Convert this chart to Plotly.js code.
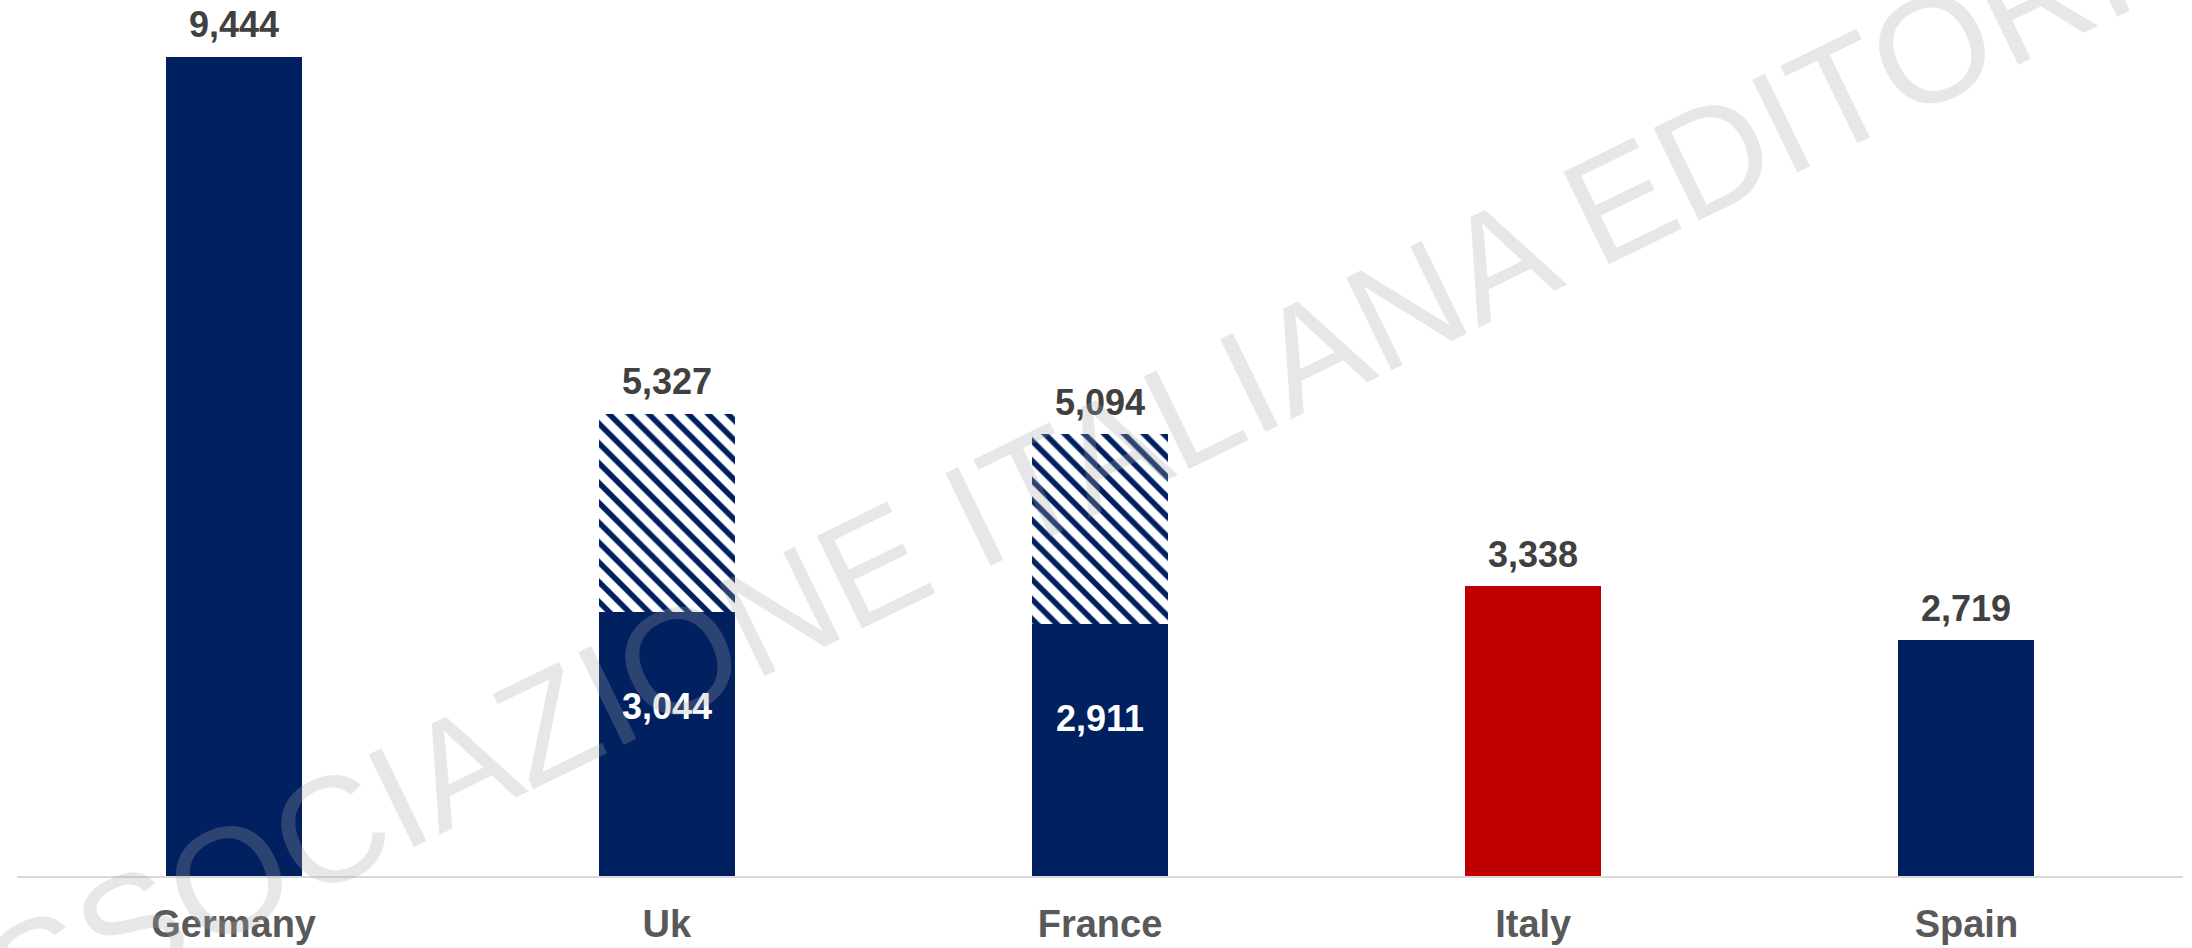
<!DOCTYPE html>
<html>
<head>
<meta charset="utf-8">
<script src="https://cdn.plot.ly/plotly-3.0.1.min.js"></script>
<style>
  html, body { margin: 0; padding: 0; background: #ffffff; }
  #chart { width: 2192px; height: 948px; }
</style>
</head>
<body>
<div id="chart"></div>
<script>
// ---- data ----
const countries = ['Germany', 'Uk', 'France', 'Italy', 'Spain'];
const totals = [9444, 5327, 5094, 3338, 2719];
const solidPart = [9444, 3044, 2911, 3338, 2719];
const barColors = ['#002060', '#002060', '#002060', '#C00000', '#002060'];
const innerShown = [false, true, true, false, false];
const watermark = 'ASSOCIAZIONE ITALIANA EDITORI';

// ---- derived ----
const hatched = totals.map((t, i) => (t - solidPart[i]) > 0 ? t - solidPart[i] : null);
const fmt = v => v.toLocaleString('en-US');
const FONT = 'Liberation Sans, Arial, sans-serif';

const traces = [
  {
    type: 'bar',
    x: countries,
    y: solidPart,
    marker: { color: barColors, line: { width: 0 } },
    hoverinfo: 'skip'
  },
  {
    type: 'bar',
    x: countries,
    y: hatched,
    marker: {
      color: '#002060',
      line: { width: 0 },
      pattern: { shape: '\\', fgcolor: '#002060', bgcolor: '#ffffff', size: 14, solidity: 0.4 }
    },
    hoverinfo: 'skip'
  }
];

const annotations = [];
countries.forEach((c, i) => {
  annotations.push({
    x: c, y: totals[i], xref: 'x', yref: 'y',
    text: fmt(totals[i]), showarrow: false,
    xanchor: 'center', yanchor: 'middle', yshift: 32,
    font: { family: FONT, size: 36, color: '#404040', weight: 'bold' }
  });
  if (innerShown[i]) {
    annotations.push({
      x: c, y: solidPart[i], xref: 'x', yref: 'y',
      text: fmt(solidPart[i]), showarrow: false,
      xanchor: 'center', yanchor: 'middle', yshift: -95,
      font: { family: FONT, size: 36, color: '#ffffff', weight: 'bold' }
    });
  }
});
annotations.push({
  x: 0.46, y: 0.433, xref: 'paper', yref: 'paper',
  text: watermark, showarrow: false, textangle: -26,
  xanchor: 'center', yanchor: 'middle',
  font: { family: FONT, size: 150, color: 'rgba(166,166,166,0.27)' }
});

const layout = {
  width: 2192, height: 948,
  margin: { l: 17, r: 9, t: 0, b: 72, pad: 0 },
  paper_bgcolor: '#ffffff', plot_bgcolor: '#ffffff',
  barmode: 'stack', bargap: 0.686,
  showlegend: false,
  xaxis: {
    showline: true, linecolor: '#d9d9d9', linewidth: 2,
    ticks: '', showgrid: false, zeroline: false,
    ticklabelstandoff: 13,
    tickfont: { family: FONT, size: 38, color: '#595959', weight: 'bold' }
  },
  yaxis: { visible: false, range: [0, 10100], showgrid: false, zeroline: false },
  annotations: annotations
};

Plotly.newPlot('chart', traces, layout, { displayModeBar: false, staticPlot: true });
</script>
</body>
</html>
